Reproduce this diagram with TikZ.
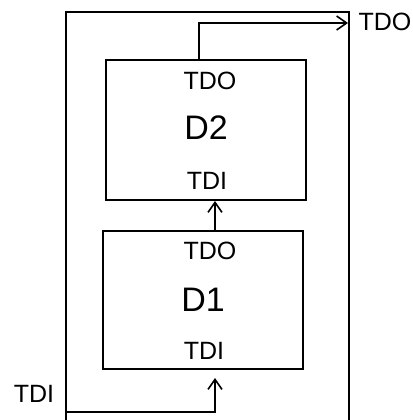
\documentclass[tikz,border=0pt]{standalone}
\usepackage{fontspec}
\setmainfont{Liberation Sans}
\usetikzlibrary{arrows.meta,calc}
\begin{document}
\begin{tikzpicture}[x=1pt,y=-1pt,
  box/.style={draw,line width=2pt,inner sep=0,minimum width=200pt},
  lbl/.style={inner sep=0,font=\fontsize{25}{25}\selectfont},
  big/.style={inner sep=0,font=\fontsize{34}{34}\selectfont},
  wire/.style={line width=2pt},
  arr/.style={wire,-{Straight Barb[length=10pt,width=14pt,line width=1.6pt]}}
]
\useasboundingbox (0,0) rectangle (412,420);
% outer frame (bottom edge beyond the picture)
\node[box,minimum width=283pt,minimum height=418pt] (outer) at (207.5,221) {};
% devices
\node[box,minimum height=140pt] (d2) at (206,130) {};
\node[box,minimum height=138pt] (d1) at (203,300) {};
% labels
\node[lbl] (d2tdo) at (210,81) {TDO};
\node[big] (d2name) at (206,128) {D2};
\node[lbl] (d2tdi) at (207,181) {TDI};
\node[lbl] (d1tdo) at (210,251) {TDO};
\node[big] (d1name) at (203,300) {D1};
\node[lbl] (d1tdi) at (204,351) {TDI};
\node[lbl] (tdo) at (385,22) {TDO};
\node[lbl] (tdi) at (34,394) {TDI};
% connectors
\coordinate (tdiin) at (66,412);
\coordinate (tdoout) at (348,23);
\draw[arr] (tdiin) -| ([xshift=12pt,yshift=-8pt]d1.south);
\draw[arr] ([xshift=12pt]d1.north) -- ([xshift=12pt]d1.north |- d2.south);
\draw[arr] ([xshift=-7pt]d2.north) |- (tdoout);
\end{tikzpicture}
\end{document}
